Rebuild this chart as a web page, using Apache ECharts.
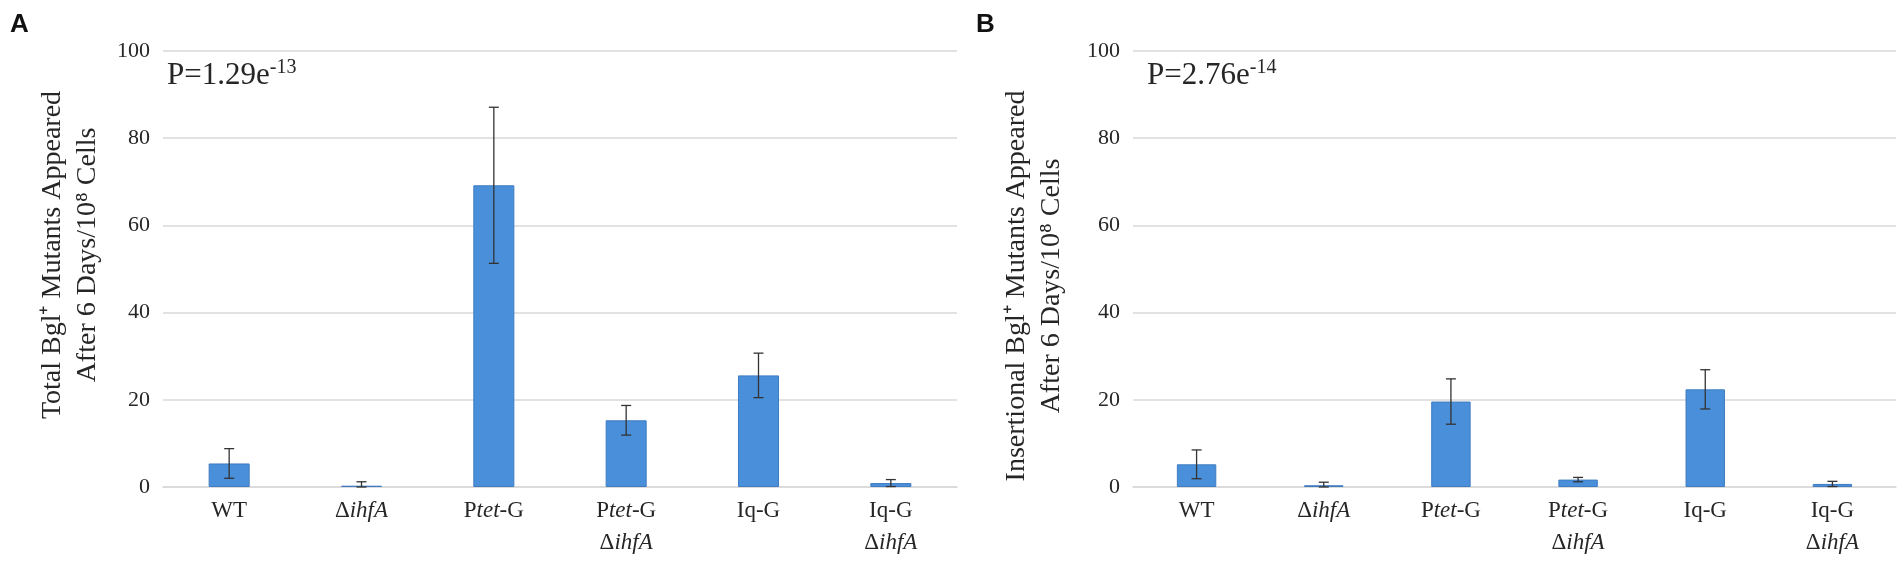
<!DOCTYPE html>
<html><head><meta charset="utf-8">
<script src="https://cdn.jsdelivr.net/npm/echarts@6/dist/echarts.min.js"></script>
<style>html,body{margin:0;padding:0;background:#fff}#c{width:1902px;height:562px}</style>
</head><body><div id="c"></div>
<script>
const categories = ['WT', 'ΔihfA', 'Ptet-G', 'Ptet-G ΔihfA', 'Iq-G', 'Iq-G ΔihfA'];
const categoryLabels = ['WT', 'Δ{i|ihfA}', 'P{i|tet}-G', 'P{i|tet}-G\nΔ{i|ihfA}', 'Iq-G', 'Iq-G\nΔ{i|ihfA}'];
const totalMeans = [5.4, 0.3, 69.2, 15.3, 25.6, 0.9];
const totalErrors = [3.4, 0.9, 17.9, 3.4, 5.1, 0.8];
const insertMeans = [5.2, 0.4, 19.6, 1.7, 22.4, 0.7];
const insertErrors = [3.3, 0.7, 5.2, 0.5, 4.5, 0.6];
const yTicks = [0, 20, 40, 60, 80, 100];
const panelLetters = ['A', 'B'];
const pValues = ['P=1.29e{s|-13}', 'P=2.76e{s|-14}'];
const yNames = ['Total Bgl⁺ Mutants Appeared\nAfter 6 Days/10⁸ Cells', 'Insertional Bgl⁺ Mutants Appeared\nAfter 6 Days/10⁸ Cells'];

const SERIF = '"Liberation Serif","Times New Roman",serif';
const TXT = '#262626';
const grids = [
  {left: 163, right: 1902 - 957, top: 51, bottom: 75},
  {left: 1133, right: 6, top: 51, bottom: 75}
];
const nameGaps = [58, 64];
const namePads = [[0, 0, 0, 28], [0, 34, 0, 0]];

function xAxisFor(i) {
  return {
    type: 'category', gridIndex: i, data: categories,
    axisLine: {lineStyle: {color: '#d9d9d9', width: 1.5}},
    axisTick: {show: false},
    axisLabel: {
      interval: 0, margin: 8, fontFamily: SERIF, fontSize: 23, color: TXT, lineHeight: 32,
      formatter: (v, idx) => categoryLabels[idx],
      rich: {i: {fontFamily: SERIF, fontSize: 23, fontStyle: 'italic', color: TXT, lineHeight: 32}}
    }
  };
}
function yAxisFor(i) {
  return {
    type: 'value', gridIndex: i, min: yTicks[0], max: yTicks[yTicks.length - 1], interval: 20,
    axisLine: {show: false}, axisTick: {show: false},
    splitLine: {lineStyle: {color: '#d9d9d9', width: 1.5}},
    axisLabel: {fontFamily: SERIF, fontSize: 22, color: TXT, margin: 13},
    name: yNames[i], nameLocation: 'middle', nameGap: nameGaps[i], nameRotate: 90,
    nameTextStyle: {fontFamily: SERIF, fontSize: 28, color: TXT, lineHeight: 35, padding: namePads[i]}
  };
}
function errSeries(i, means, errs) {
  return {
    type: 'custom', xAxisIndex: i, yAxisIndex: i, z: 5,
    data: means.map((m, k) => [k, m - errs[k], m + errs[k]]),
    renderItem: function (params, api) {
      const lo = api.coord([api.value(0), Math.max(0, api.value(1))]);
      const hi = api.coord([api.value(0), api.value(2)]);
      const w = 5;
      const st = {stroke: '#333', lineWidth: 1.3};
      return {type: 'group', children: [
        {type: 'line', shape: {x1: hi[0], y1: hi[1], x2: lo[0], y2: lo[1]}, style: st},
        {type: 'line', shape: {x1: hi[0] - w, y1: hi[1], x2: hi[0] + w, y2: hi[1]}, style: st},
        {type: 'line', shape: {x1: lo[0] - w, y1: lo[1], x2: lo[0] + w, y2: lo[1]}, style: st}
      ]};
    }
  };
}
function barSeries(i, means) {
  return {
    type: 'bar', xAxisIndex: i, yAxisIndex: i, data: means, barWidth: '31%',
    itemStyle: {color: '#4a8fd9', borderColor: '#3f7cc2', borderWidth: 1}
  };
}
const pStyle = {fontFamily: SERIF, fontSize: 31, fontWeight: 'normal', color: TXT,
  rich: {s: {fontFamily: SERIF, fontSize: 20, fontWeight: 'normal', color: TXT, padding: [0, 0, 16, 0]}}};
const letterStyle = {fontFamily: '"Liberation Sans",Arial,sans-serif', fontWeight: 'bold', fontSize: 26, color: '#111'};
const option = {
  animation: false,
  grid: grids,
  xAxis: [xAxisFor(0), xAxisFor(1)],
  yAxis: [yAxisFor(0), yAxisFor(1)],
  title: [
    {text: panelLetters[0], left: 10, top: 12, padding: 0, textStyle: letterStyle},
    {text: panelLetters[1], left: 976, top: 12, padding: 0, textStyle: letterStyle},
    {text: pValues[0], left: 167, top: 58, padding: 0, textStyle: pStyle},
    {text: pValues[1], left: 1147, top: 58, padding: 0, textStyle: pStyle}
  ],
  series: [
    barSeries(0, totalMeans), errSeries(0, totalMeans, totalErrors),
    barSeries(1, insertMeans), errSeries(1, insertMeans, insertErrors)
  ]
};
const chart = echarts.init(document.getElementById('c'));
chart.setOption(option);
</script></body></html>
